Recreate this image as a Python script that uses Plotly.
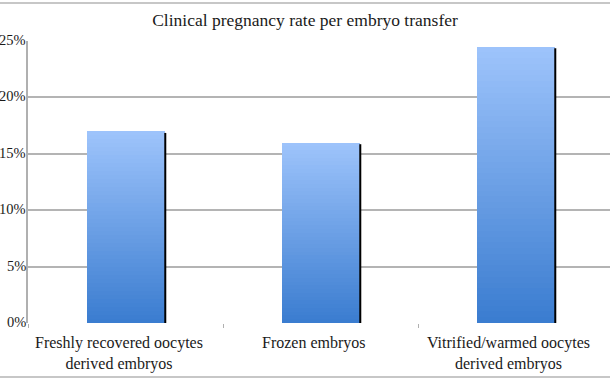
import plotly.graph_objects as go

# ---- data ----
categories = ["Freshly recovered oocytes<br>derived embryos",
              "Frozen embryos",
              "Vitrified/warmed oocytes<br>derived embryos"]
rates = [17.0, 16.0, 24.5]
y_tick_vals = [0, 5, 10, 15, 20, 25]
y_tick_text = ["0%", "5%", "10%", "15%", "20%", "25%"]
title_text = "Clinical pregnancy rate per embryo transfer"

# ---- style ----
N = 48
top_rgb = (157, 195, 251)
bot_rgb = (59, 125, 208)
bar_w = 0.4
serif = "Liberation Serif"

fig = go.Figure()
for k in range(N):
    t = k / (N - 1)
    c = tuple(round(bot_rgb[j] + (top_rgb[j] - bot_rgb[j]) * t) for j in range(3))
    fig.add_trace(go.Bar(
        x=categories,
        y=[v / N for v in rates],
        width=bar_w,
        marker=dict(color="rgb(%d,%d,%d)" % c, line=dict(width=0)),
        showlegend=False,
        hoverinfo="skip",
    ))

shapes = []
# dark right edge of each bar
for i, v in enumerate(rates):
    shapes.append(dict(type="line", xref="x", yref="y",
                       x0=i + bar_w / 2 + 0.004, x1=i + bar_w / 2 + 0.004,
                       y0=0, y1=v - 0.15,
                       line=dict(color="black", width=2)))
# frame lines
shapes.append(dict(type="line", xref="paper", yref="paper",
                   x0=-0.05, x1=1.0, y0=1 + 38 / 282, y1=1 + 38 / 282,
                   line=dict(color="#b4b4b4", width=1.5)))
shapes.append(dict(type="line", xref="paper", yref="paper",
                   x0=-0.05, x1=1.0, y0=-54 / 282, y1=-54 / 282,
                   line=dict(color="#b4b4b4", width=1.5)))

annotations = []
# category labels
for cat in categories:
    annotations.append(dict(
        x=cat, xref="x", y=-9 / 282, yref="paper",
        text=cat, showarrow=False, xanchor="center", yanchor="top",
        xshift=-7, align="center",
        font=dict(family=serif, size=16, color="#1a1a1a"),
    ))
# y tick labels
for v, lab in zip(y_tick_vals, y_tick_text):
    annotations.append(dict(
        x=0, xref="paper", y=v, yref="y",
        text=lab, showarrow=False, xanchor="right", yanchor="middle",
        xshift=0, yshift=1,
        font=dict(family=serif, size=14.5, color="#1a1a1a"),
    ))

fig.update_layout(
    width=610, height=381,
    margin=dict(l=28, r=0, t=41, b=58, autoexpand=False),
    paper_bgcolor="white", plot_bgcolor="white",
    barmode="stack", bargap=0,
    title=dict(text=title_text, x=0.5, xanchor="center",
               y=1 - 20 / 381, yanchor="middle", yref="container",
               font=dict(family=serif, size=17.5, color="#1a1a1a")),
    font=dict(family=serif, color="#1a1a1a"),
    shapes=shapes,
    annotations=annotations,
    xaxis=dict(
        type="category", automargin=False,
        range=[-0.5, -0.5 + 582 / 195],
        tickson="boundaries", ticks="outside", ticklen=4,
        tickcolor="#b0b0b0", showticklabels=False,
        showline=False, showgrid=False,
        fixedrange=True,
    ),
    yaxis=dict(
        automargin=False,
        range=[0, 25],
        tickvals=y_tick_vals, showticklabels=False,
        ticks="",
        showgrid=True, gridcolor="#b4b4b4", gridwidth=1.5,
        showline=True, linecolor="#b0b0b0", linewidth=1.5,
        zeroline=False,
        fixedrange=True,
    ),
)

fig.write_html("out.html", config={"displayModeBar": False},
               post_script="document.body.style.margin='0px';document.body.style.padding='0px';")
